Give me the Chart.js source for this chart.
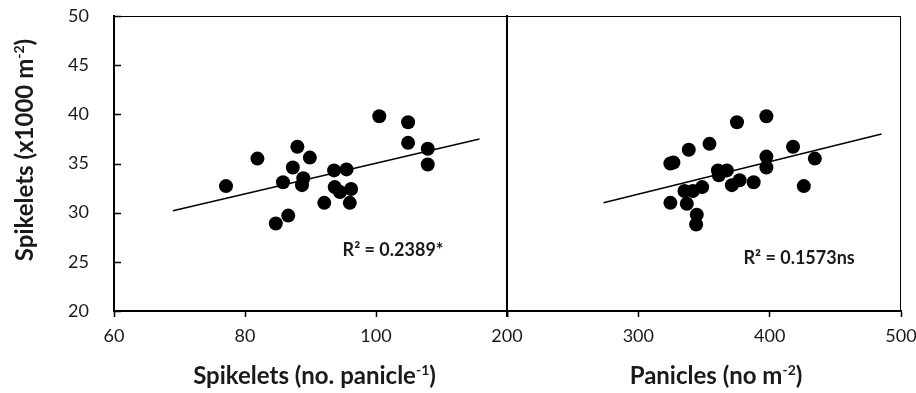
<!DOCTYPE html>
<html>
<head>
<meta charset="utf-8">
<script src="https://cdn.jsdelivr.net/npm/chart.js@4.4.0/dist/chart.umd.min.js"></script>
<style>
  body { margin: 0; background: #fff; }
  #wrap { position: relative; width: 916px; height: 393px; }
  canvas { position: absolute; left: 0; top: 0; }
</style>
</head>
<body>
<div id="wrap">
  <canvas id="leftChart" width="916" height="393"></canvas>
  <canvas id="rightChart" width="916" height="393"></canvas>
</div>
<script>
// spikelets per panicle vs spikelets per m2 (left panel)
const spikeletsPerPanicle = [77.1, 81.9, 88.0, 89.9, 87.3, 85.8, 88.9, 88.7, 86.6, 84.7, 92.1,
    93.6, 95.5, 93.7, 94.5, 96.2, 96.0, 100.5, 104.9, 104.9, 107.9, 107.9];
const spikeletsLeft = [32.7, 35.5, 36.7, 35.6, 34.6, 33.1, 33.5, 32.8, 29.7, 28.9, 31.0,
    34.3, 34.4, 32.6, 32.1, 32.4, 31.0, 39.8, 39.2, 37.1, 36.5, 34.9];

// panicles per m2 vs spikelets per m2 (right panel)
const panicles = [324.4, 326.7, 338.4, 354.2, 375.1, 397.5, 417.8, 434.4, 397.5, 397.5, 426.0, 387.8,
    377.1, 371.2, 367.4, 360.6, 361.3, 348.6, 341.5, 335.1, 324.4, 336.9, 344.5, 344.0];
const spikeletsRight = [35.0, 35.1, 36.4, 37.0, 39.2, 39.8, 36.7, 35.5, 35.7, 34.6, 32.7, 33.1,
    33.3, 32.8, 34.3, 34.3, 33.8, 32.6, 32.2, 32.2, 31.0, 30.9, 29.8, 28.8];

// trend line end points
const leftTrendX = [69.0, 115.8];
const leftTrendY = [30.2, 37.5];
const rightTrendX = [273.5, 485.2];
const rightTrendY = [31.0, 38.0];

const yTicks = [20, 25, 30, 35, 40, 45, 50];
const leftXTicks = [60, 80, 100, 120];
const rightXTicks = [200, 300, 400, 500];

const FONT = 'Lato, "Open Sans", sans-serif';
const TEXT = '#1a1a1a';

function toPoints(xs, ys) {
    return xs.map((x, i) => ({x: x, y: ys[i]}));
}

// draw a title made of [text, superscript] pieces, centred on (x, y)
function drawRichText(ctx, parts, x, y, rotate) {
    const main = 'bold 24px ' + FONT;
    const sup = 'bold 14px ' + FONT;
    let total = 0;
    parts.forEach(p => {
        ctx.font = p.sup ? sup : main;
        p.w = ctx.measureText(p.text).width;
        total += p.w;
    });
    ctx.save();
    ctx.translate(x, y);
    if (rotate) ctx.rotate(-Math.PI / 2);
    ctx.fillStyle = TEXT;
    ctx.textAlign = 'left';
    ctx.textBaseline = 'alphabetic';
    let cx = -total / 2;
    parts.forEach(p => {
        ctx.font = p.sup ? sup : main;
        ctx.fillText(p.text, cx, p.sup ? -1 : 8);
        cx += p.w;
    });
    ctx.restore();
}

const framePlugin = {
    id: 'frame',
    afterDraw(chart, args, opts) {
        const {ctx, chartArea: a} = chart;
        ctx.save();
        ctx.strokeStyle = '#000';
        // thin top and right border
        ctx.lineWidth = 1;
        ctx.beginPath();
        ctx.moveTo(a.left, a.top + 0.5);
        ctx.lineTo(a.right, a.top + 0.5);
        if (opts.rightBorder) {
            ctx.moveTo(a.right - 0.5, a.top);
            ctx.lineTo(a.right - 0.5, a.bottom);
        }
        ctx.stroke();
        // thick divider
        if (opts.divider) {
            ctx.lineWidth = 2;
            ctx.beginPath();
            ctx.moveTo(a.right, a.top);
            ctx.lineTo(a.right, a.bottom + 6);
            ctx.stroke();
        }
        // inward y ticks
        if (opts.yTicks) {
            const y = chart.scales.y;
            ctx.lineWidth = 1.5;
            ctx.beginPath();
            y.ticks.forEach(t => {
                const py = Math.round(y.getPixelForValue(t.value)) + 0.5;
                ctx.moveTo(a.left, py);
                ctx.lineTo(a.left + 7, py);
            });
            ctx.stroke();
        }
        // R2 label
        if (opts.label) {
            const px = chart.scales.x.getPixelForValue(opts.label.x);
            const py = chart.scales.y.getPixelForValue(opts.label.y);
            ctx.fillStyle = TEXT;
            ctx.font = 'bold 18px ' + FONT;
            ctx.textAlign = 'center';
            ctx.textBaseline = 'middle';
            ctx.fillText(opts.label.text, px, py);
        }
        ctx.restore();
        // axis titles
        const mid = (a.left + a.right) / 2;
        drawRichText(ctx, opts.xTitle, mid + opts.xTitleShift, 376, false);
        if (opts.yTitle) drawRichText(ctx, opts.yTitle, 25, 150, true);
    }
};

function makeChart(id, cfg) {
    const ctx = document.getElementById(id).getContext('2d');
    return new Chart(ctx, {
        type: 'scatter',
        data: {
            datasets: [
                {
                    data: toPoints(cfg.xs, cfg.ys),
                    backgroundColor: '#000',
                    borderWidth: 0,
                    pointRadius: 7,
                    pointHoverRadius: 7
                },
                {
                    data: toPoints(cfg.trendX, cfg.trendY),
                    showLine: true,
                    borderColor: '#000',
                    borderWidth: 1.5,
                    pointRadius: 0,
                    fill: false
                }
            ]
        },
        options: {
            responsive: false,
            animation: false,
            events: [],
            layout: {padding: cfg.padding},
            plugins: {
                legend: {display: false},
                tooltip: {enabled: false},
                frame: cfg.frame
            },
            scales: {
                x: {
                    type: 'linear',
                    min: cfg.xTicks[0],
                    max: cfg.xTicks[cfg.xTicks.length - 1],
                    afterBuildTicks: scale => {
                        scale.ticks = cfg.xTicks.map(v => ({value: v}));
                    },
                    afterFit: scale => {
                        scale.height = 82;
                        scale.paddingLeft = 0;
                        scale.paddingRight = 0;
                    },
                    border: {display: true, color: '#000', width: 2},
                    grid: {drawOnChartArea: false, drawTicks: true, tickLength: 6, color: '#000', tickWidth: 1.5},
                    ticks: {
                        color: TEXT,
                        font: {family: FONT, size: 18},
                        padding: 8,
                        maxRotation: 0,
                        autoSkip: false,
                        callback: cfg.xCallback
                    }
                },
                y: {
                    type: 'linear',
                    min: 20,
                    max: 50,
                    display: true,
                    afterBuildTicks: scale => {
                        scale.ticks = yTicks.map(v => ({value: v}));
                    },
                    afterFit: scale => {
                        scale.width = cfg.yWidth;
                        scale.paddingTop = 0;
                        scale.paddingBottom = 0;
                    },
                    border: {display: true, color: '#000', width: 2},
                    grid: {drawOnChartArea: false, drawTicks: false},
                    ticks: {
                        display: cfg.yLabels,
                        color: TEXT,
                        font: {family: FONT, size: 18},
                        padding: 25
                    }
                }
            }
        },
        plugins: [framePlugin]
    });
}

makeChart('leftChart', {
    xs: spikeletsPerPanicle,
    ys: spikeletsLeft,
    trendX: leftTrendX,
    trendY: leftTrendY,
    xTicks: leftXTicks,
    xCallback: v => (v === 120 ? '' : v),
    yWidth: 114,
    yLabels: true,
    padding: {left: 0, right: 409, top: 16, bottom: 0},
    frame: {
        rightBorder: false, divider: true, yTicks: true,
        label: {x: 102.6, y: 26.2, text: 'R² = 0.2389*'},
        xTitle: [{text: 'Spikelets (no. panicle'}, {text: '-1', sup: true}, {text: ')'}],
        xTitleShift: 4,
        yTitle: [{text: 'Spikelets (x1000 m'}, {text: '-2', sup: true}, {text: ')'}]
    }
});

makeChart('rightChart', {
    xs: panicles,
    ys: spikeletsRight,
    trendX: rightTrendX,
    trendY: rightTrendY,
    xTicks: rightXTicks,
    xCallback: v => v,
    yWidth: 0,
    yLabels: false,
    padding: {left: 507, right: 15, top: 16, bottom: 0},
    frame: {
        rightBorder: true, divider: false, yTicks: false,
        label: {x: 422.4, y: 25.4, text: 'R² = 0.1573ns'},
        xTitle: [{text: 'Panicles (no m'}, {text: '-2', sup: true}, {text: ')'}],
        xTitleShift: 12
    }
});
</script>
</body>
</html>
